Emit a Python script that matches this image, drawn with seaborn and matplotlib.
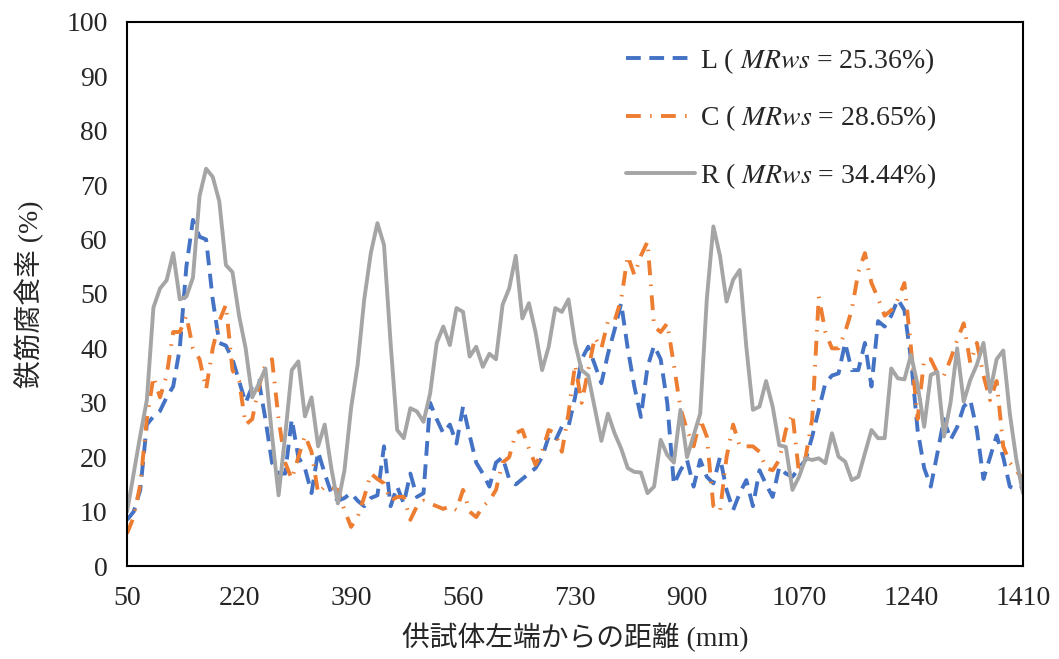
import numpy as np
import pandas as pd
import seaborn as sns
import matplotlib
matplotlib.use("Agg")
import matplotlib.pyplot as plt

# 供試体左端からの距離 (mm), 10 mm pitch
dist = np.arange(50, 1411, 10)

L_vals = [8.5, 10, 14, 26, 27.5, 28.5, 31, 33, 40, 55,
          63.6, 60.5, 60, 49, 41, 40.5, 38, 34, 30, 33,
          34, 27, 19, 17, 17, 27, 20, 18, 13.4, 21,
          17, 13.4, 12, 12.5, 13.4, 12, 11, 12.5, 13, 22,
          11, 14.6, 11.5, 17, 12.7, 13.4, 30, 27, 24.4, 26,
          22.5, 29.3, 24, 19, 17, 14.6, 19, 20, 16, 15,
          16, 17, 18, 20, 23.8, 23, 25.6, 25.6, 31, 38,
          40.3, 37, 33.6, 39, 43.4, 48.3, 40, 33, 27.4, 36.6,
          40.5, 38, 30, 15, 17.6, 19.5, 14.6, 19.5, 16.4, 15.2,
          20, 14, 10.3, 13.4, 15.8, 11, 17.6, 15, 12.7, 18.2,
          17, 16.4, 18, 19.5, 23.8, 28.7, 33.6, 35, 35.4, 41,
          36, 36, 41, 33, 45, 44, 46, 49, 47, 38,
          25, 18, 14.6, 20.7, 27, 23.2, 25.5, 29.3, 30.5, 25,
          16, 20, 24, 20, 14.6, 14, 14.5]

C_vals = [6, 9, 15, 27, 34.8, 31, 35, 43, 43, 46,
          40, 38, 32.5, 40, 45, 48, 36, 34, 26, 27,
          33, 37, 38, 27, 19, 16, 20, 24, 21, 13.4,
          14.6, 14.5, 14, 10.3, 7.2, 9, 12.7, 17, 16, 15.2,
          12, 12.7, 12.7, 8.5, 11, 12, 11.5, 11, 10.5, 11,
          10.3, 14, 10, 9, 11, 12, 14, 19, 20, 24.4,
          25, 21.6, 18.6, 21, 25, 24.4, 21, 28, 37, 30,
          36, 42, 40, 45, 45, 49, 57, 53.5, 57, 59.6,
          44, 43, 44.6, 37, 29, 25, 22, 27, 23.8, 11,
          10, 20, 26, 22, 22, 22, 21, 18, 17.6, 19.5,
          25, 28, 17, 20, 27, 49.5, 43, 40, 40, 43,
          47, 54, 57.5, 52, 49.2, 46, 47, 49, 52, 40,
          27, 38, 38, 35.5, 35, 38, 41.5, 44.6, 37.3, 41,
          35, 30.5, 34, 22, 19, 17.5, 16]

R_vals = [10, 17, 24, 30.5, 47.5, 51, 52.5, 57.5, 49, 49.5,
          53, 68, 73, 71.5, 67, 55.3, 54, 46, 40, 31,
          33.5, 36.3, 24, 13, 24, 36, 37.6, 27.5, 31, 22,
          26, 18, 11.5, 17.6, 29, 37, 49, 57.5, 63, 59,
          41, 25, 23.5, 29, 28.4, 26.5, 31.7, 41, 44, 40.6,
          47.4, 46.7, 38.5, 40.3, 36.6, 39, 38, 48, 51, 57,
          45.5, 48.3, 43, 36, 40.3, 47.4, 46.7, 49, 41, 36,
          35, 29, 23, 28, 24.4, 21.6, 18, 17.3, 17.2, 13.4,
          14.6, 23.2, 20.4, 19, 28.7, 20, 24, 28, 49, 62.4,
          57, 48.6, 52.6, 54.4, 40.3, 28.7, 29.3, 34, 29.3, 22.2,
          21.9, 14, 16.4, 19.8, 19.5, 19.8, 18.9, 24.4, 20.1, 19.2,
          15.8, 16.4, 20.7, 25, 23.5, 23.5, 36.3, 34.5, 34.3, 38.8,
          33.3, 25.6, 35.1, 35.7, 23.8, 30, 40, 30.2, 34.2, 37,
          41, 32, 38, 39.6, 28, 19.5, 13.4]

labels = ["L ( $MRws$ = 25.36%)", "C ( $MRws$ = 28.65%)", "R ( $MRws$ = 34.44%)"]
colors = ["#4472C4", "#ED7D31", "#A5A5A5"]
styles = [(0, (3.8, 2.2)), (0, (3.8, 2.4, 0.4, 2.4)), "-"]

xticks = np.arange(50, 1411, 170)
yticks = np.arange(0, 101, 10)

sns.set_style("white")
plt.rcParams["font.family"] = ["Liberation Serif", "Noto Sans CJK JP"]
plt.rcParams["mathtext.fontset"] = "stix"

fig = plt.figure(figsize=(10.59, 6.59), dpi=100)
ax = fig.add_axes([0.12, 0.141, 0.846, 0.826])

for vals, lab, col, ls in zip([L_vals, C_vals, R_vals], labels, colors, styles):
    sns.lineplot(x=dist, y=vals, color=col, linewidth=2.8, linestyle=ls,
                 label=lab, ax=ax)

ax.set_xlim(50, 1410)
ax.set_ylim(0, 100)
ax.set_xticks(xticks)
ax.set_yticks(yticks)
ax.tick_params(axis="both", direction="in", length=7, width=1.2, labelsize=20)
ax.tick_params(axis="x", pad=14)
ax.tick_params(axis="y", pad=14)

for sp in ax.spines.values():
    sp.set_visible(True)
    sp.set_color("black")
    sp.set_linewidth(1.5)

ax.set_xlabel("供試体左端からの距離 (mm)", fontsize=20, labelpad=9)
ax.set_ylabel("鉄筋腐食率 (%)", fontsize=20, labelpad=16)

leg = ax.legend(loc="upper left", bbox_to_anchor=(0.545, 0.976),
                frameon=False, fontsize=20, handlelength=2.45,
                handletextpad=0.2, labelspacing=1.0, borderaxespad=0)

fig.savefig("out.png", dpi=100)
